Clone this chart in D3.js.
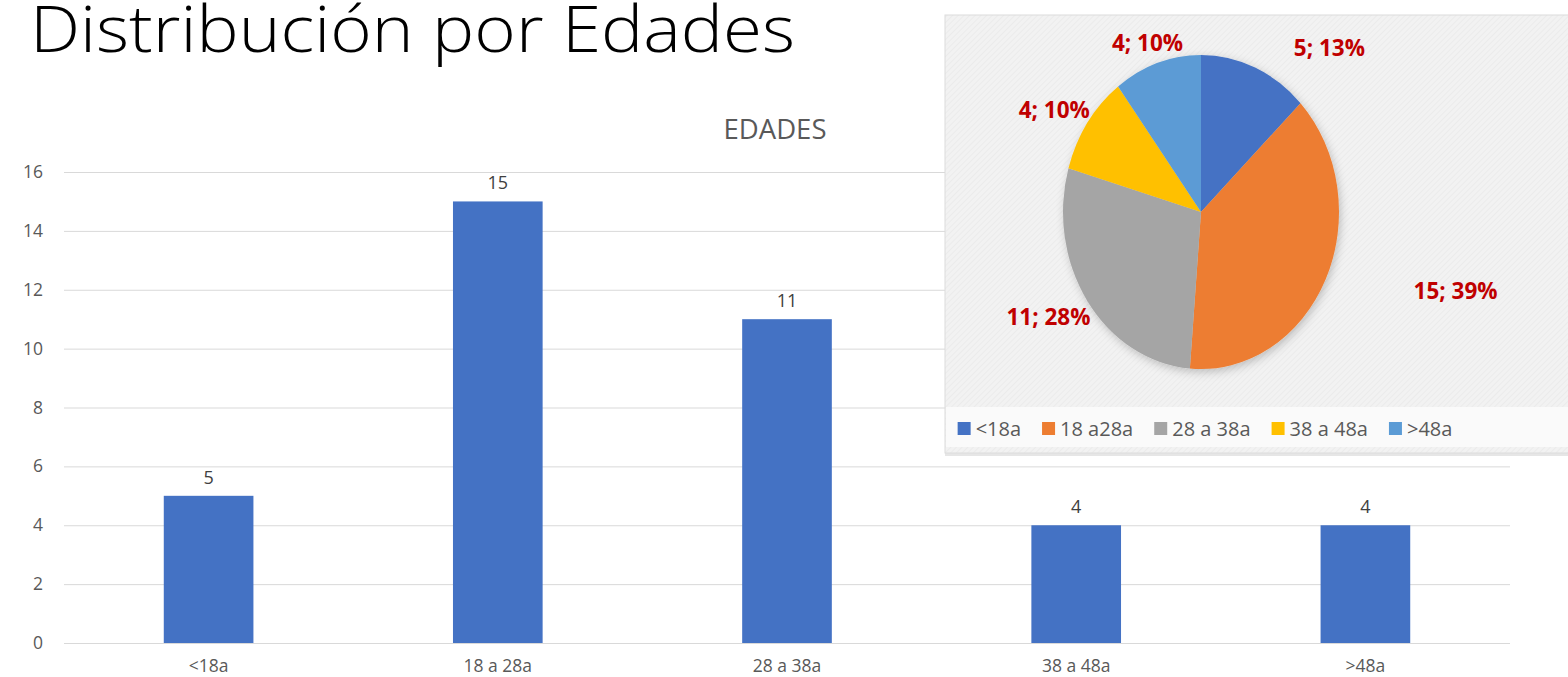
<!DOCTYPE html>
<html>
<head>
<meta charset="utf-8">
<script src="https://cdn.jsdelivr.net/npm/d3@7"></script>
<style>
  html, body { margin: 0; padding: 0; background: #fff; }
  svg { display: block; font-family: "Open Sans", "Noto Sans", sans-serif; }
</style>
</head>
<body>
<svg id="chart" width="1568" height="677"></svg>
<script>
// chart data
var categories = ['<18a', '18 a 28a', '28 a 38a', '38 a 48a', '>48a'];
var counts = [5, 15, 11, 4, 4];
var yTicks = [0, 2, 4, 6, 8, 10, 12, 14, 16];
var pieLegendNames = ['<18a', '18 a28a', '28 a 38a', '38 a 48a', '>48a'];
var pieColors = ['#4472C4', '#ED7D31', '#A5A5A5', '#FFC000', '#5B9BD5'];

var svg = d3.select('#chart');
var defs = svg.append('defs');

// --- page title
svg.append('text')
  .attr('x', 30)
  .attr('y', 52)
  .attr('font-size', 64)
  .attr('font-weight', 300)
  .attr('fill', '#000')
  .attr('textLength', 765)
  .attr('lengthAdjust', 'spacingAndGlyphs')
  .text('Distribución por Edades');

// --- bar chart
var plot = {left: 64, right: 1510, top: 172, bottom: 643};

var x = d3.scaleBand()
  .domain(categories)
  .range([plot.left, plot.right])
  .paddingInner(0.69)
  .paddingOuter(0.345);

var y = d3.scaleLinear()
  .domain([0, 16])
  .range([plot.bottom, plot.top]);

var barG = svg.append('g').attr('class', 'bar-chart');

barG.append('text')
  .attr('x', (plot.left + plot.right) / 2 - 12)
  .attr('y', 139)
  .attr('text-anchor', 'middle')
  .attr('font-size', 27.5)
  .attr('fill', '#595959')
  .text('EDADES');

// gridlines via axis
var yAxis = d3.axisLeft(y)
  .tickValues(yTicks)
  .tickSize(-(plot.right - plot.left))
  .tickPadding(21);

barG.append('g')
  .attr('transform', 'translate(' + plot.left + ',0)')
  .call(yAxis)
  .call(g => g.select('.domain').remove())
  .call(g => g.selectAll('.tick line').attr('stroke', '#d9d9d9').attr('stroke-width', 1))
  .call(g => g.selectAll('.tick text')
    .attr('font-size', 17.5)
    .attr('font-family', '"Open Sans", sans-serif')
    .attr('fill', '#595959'));

var xAxis = d3.axisBottom(x).tickSize(0).tickPadding(17);
barG.append('g')
  .attr('transform', 'translate(0,' + plot.bottom + ')')
  .call(xAxis)
  .call(g => g.select('.domain').remove())
  .call(g => g.selectAll('.tick text')
    .attr('font-size', 17.5)
    .attr('font-family', '"Open Sans", sans-serif')
    .attr('fill', '#595959'));

barG.selectAll('rect.bar')
  .data(counts)
  .enter().append('rect')
    .attr('class', 'bar')
    .attr('x', (d, i) => x(categories[i]))
    .attr('y', d => y(d))
    .attr('width', x.bandwidth())
    .attr('height', d => y(0) - y(d))
    .attr('fill', '#4472C4');

barG.selectAll('text.value')
  .data(counts)
  .enter().append('text')
    .attr('class', 'value')
    .attr('x', (d, i) => x(categories[i]) + x.bandwidth() / 2)
    .attr('y', d => y(d) - 12)
    .attr('text-anchor', 'middle')
    .attr('font-size', 18)
    .attr('fill', '#404040')
    .text(d => d);

// --- pie panel (pasted over the bar chart)
var panel = {x: 945, y: 15, w: 640, h: 438};

var hatch = defs.append('pattern')
  .attr('id', 'hatch')
  .attr('patternUnits', 'userSpaceOnUse')
  .attr('width', 4)
  .attr('height', 4)
  .attr('patternTransform', 'rotate(45)');
hatch.append('rect').attr('width', 4).attr('height', 4).attr('fill', '#f2f2f2');
hatch.append('line').attr('x1', 0).attr('y1', 0).attr('x2', 0).attr('y2', 4)
  .attr('stroke', '#e9e9e9').attr('stroke-width', 1.5);

var shadow = defs.append('filter')
  .attr('id', 'pieShadow')
  .attr('x', '-20%').attr('y', '-20%').attr('width', '140%').attr('height', '140%');
shadow.append('feDropShadow')
  .attr('dx', 2).attr('dy', 3)
  .attr('stdDeviation', 5)
  .attr('flood-color', '#000')
  .attr('flood-opacity', 0.22);

var pieG = svg.append('g').attr('class', 'pie-panel');

pieG.append('rect')
  .attr('x', panel.x).attr('y', panel.y + 3)
  .attr('width', panel.w).attr('height', panel.h)
  .attr('fill', '#e6e6e6');
pieG.append('rect')
  .attr('x', panel.x).attr('y', panel.y)
  .attr('width', panel.w).attr('height', panel.h)
  .attr('fill', 'url(#hatch)')
  .attr('stroke', '#dcdcdc')
  .attr('stroke-width', 1);
// lighter band behind legend
pieG.append('rect')
  .attr('x', panel.x + 1).attr('y', 407)
  .attr('width', panel.w).attr('height', 40)
  .attr('fill', '#fafafa');

var cx = 1201, cy = 212, ry = 157, rx = 138;
var total = d3.sum(counts);

// percentages rounded so they add to 100 (largest remainder, like Excel shows)
var raw = counts.map(d => d / total * 100);
var pct = raw.map(d => Math.floor(d));
var missing = 100 - d3.sum(pct);
var order = d3.range(raw.length).sort((a, b) => (raw[b] - pct[b]) - (raw[a] - pct[a]));
for (var r = 0; r < missing; r++) pct[order[r]] += 1;

var pie = d3.pie().sort(null).value(d => d);
var arcs = pie(counts);
var arc = d3.arc().innerRadius(0).outerRadius(ry);

pieG.append('g')
  .attr('transform', 'translate(' + cx + ',' + cy + ') scale(' + (rx / ry) + ',1)')
  .attr('filter', 'url(#pieShadow)')
  .selectAll('path')
  .data(arcs)
  .enter().append('path')
    .attr('d', arc)
    .attr('fill', (d, i) => pieColors[i]);

// data labels, placed just outside the (elliptical) pie, best-fit style
var labels = pieG.append('g').selectAll('text')
  .data(arcs)
  .enter().append('text')
    .attr('font-size', 22.5)
    .attr('font-weight', 700)
    .attr('fill', '#C00000')
    .attr('text-anchor', 'middle')
    .text((d, i) => d.data + '; ' + pct[i] + '%');

labels.each(function(d) {
  var a = (d.startAngle + d.endAngle) / 2;
  var w = this.getComputedTextLength();
  var s = Math.sin(a), c = Math.cos(a);
  var kx = s > 0 ? 1.5 : 1.12;
  var ky = 1.12;
  var px = cx + 20 + rx * kx * s + (s > 0 ? 1 : -1) * Math.sqrt(Math.abs(s)) * (w / 2 + 8);
  var py = cy - ry * ky * c + 6 + 12 * Math.max(0, -c);
  d3.select(this).attr('x', px).attr('y', py);
});

// legend
var legend = pieG.append('g').attr('class', 'legend');
var items = legend.selectAll('g')
  .data(pieLegendNames)
  .enter().append('g');
items.append('rect')
  .attr('width', 13).attr('height', 13)
  .attr('y', 422)
  .attr('fill', (d, i) => pieColors[i]);
items.append('text')
  .attr('x', 18)
  .attr('y', 436)
  .attr('font-size', 20)
  .attr('fill', '#595959')
  .text(d => d);

var offs = [], pos = 0;
items.each(function() {
  var w = 18 + d3.select(this).select('text').node().getComputedTextLength();
  offs.push(pos);
  pos += w + 21;
});
var legendW = pos - 21;
items.attr('transform', (d, i) => 'translate(' + (cx + 4 - legendW / 2 + offs[i]) + ',0)');
</script>
</body>
</html>
